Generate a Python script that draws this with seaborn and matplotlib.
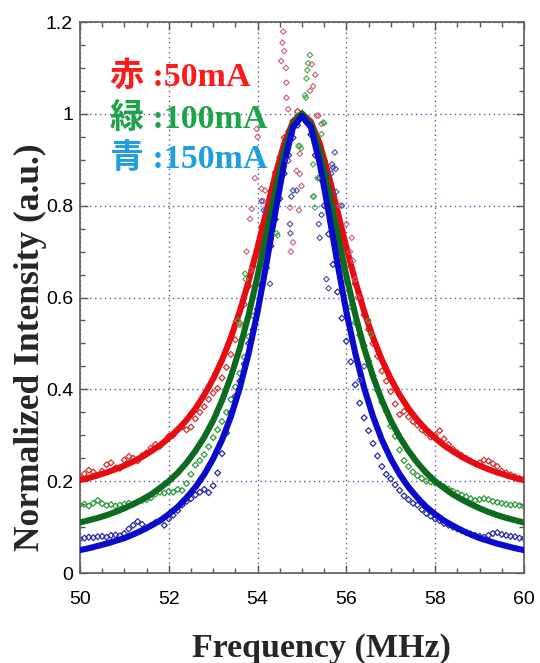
import matplotlib
matplotlib.use("Agg")
import matplotlib.pyplot as plt
import numpy as np
import pandas as pd
import seaborn as sns
from matplotlib.ticker import MultipleLocator, FuncFormatter

# ---------------- data ----------------
series_names = ["50mA", "100mA", "150mA"]
legend_labels = ["赤 :50mA", "緑 :100mA", "青 :150mA"]

# fitted curves, sampled every 0.2 MHz from 50 to 60 MHz
freq_fit = [round(50 + 0.2 * i, 1) for i in range(51)]
red_fit = [0.2025, 0.207, 0.213, 0.219, 0.226, 0.234, 0.243, 0.253, 0.265, 0.278,
           0.294, 0.312, 0.333, 0.358, 0.388, 0.423, 0.464, 0.513, 0.570, 0.636,
           0.709, 0.788, 0.867, 0.935, 0.983, 1.000, 0.983, 0.935, 0.867, 0.788,
           0.709, 0.636, 0.570, 0.513, 0.464, 0.423, 0.388, 0.358, 0.333, 0.312,
           0.294, 0.278, 0.265, 0.253, 0.243, 0.234, 0.226, 0.219, 0.213, 0.207,
           0.2025]
green_fit = [0.110, 0.115, 0.120, 0.126, 0.133, 0.141, 0.150, 0.160, 0.171, 0.185,
             0.200, 0.218, 0.240, 0.266, 0.296, 0.332, 0.376, 0.428, 0.490, 0.563,
             0.647, 0.739, 0.833, 0.918, 0.978, 1.000, 0.978, 0.918, 0.833, 0.739,
             0.647, 0.563, 0.490, 0.428, 0.376, 0.332, 0.296, 0.266, 0.240, 0.218,
             0.200, 0.185, 0.171, 0.160, 0.150, 0.141, 0.133, 0.126, 0.120, 0.115,
             0.110]
blue_fit = [0.050, 0.054, 0.059, 0.064, 0.070, 0.076, 0.084, 0.093, 0.103, 0.114,
            0.128, 0.144, 0.164, 0.187, 0.215, 0.249, 0.290, 0.341, 0.403, 0.479,
            0.569, 0.674, 0.786, 0.892, 0.971, 0.995, 0.971, 0.892, 0.786, 0.674,
            0.569, 0.479, 0.403, 0.341, 0.290, 0.249, 0.215, 0.187, 0.164, 0.144,
            0.128, 0.114, 0.103, 0.093, 0.084, 0.076, 0.070, 0.064, 0.059, 0.054,
            0.050]

# measured data, every 0.1 MHz from 50 to 60 MHz
freq_data = [round(50 + 0.1 * i, 1) for i in range(101)]
red_data = [0.208, 0.216, 0.224, 0.220, 0.213, 0.222, 0.236, 0.240, 0.229, 0.228,
            0.246, 0.254, 0.250, 0.244, 0.256, 0.262, 0.272, 0.280, 0.276, 0.286,
            0.298, 0.300, 0.312, 0.318, 0.312, 0.318, 0.336, 0.350, 0.362, 0.378,
            0.392, 0.402, 0.425, 0.448, 0.476, 0.508, 0.545, 0.585, 0.625, 0.668,
            0.705, 0.756, 0.790, 0.832, 0.872, 0.905, 0.948, 0.962, 0.985, 1.005,
            0.998, 0.992, 0.978, 0.955, 0.930, 0.898, 0.862, 0.826, 0.784, 0.746,
            0.705, 0.668, 0.630, 0.598, 0.562, 0.530, 0.500, 0.472, 0.440, 0.418,
            0.395, 0.368, 0.345, 0.352, 0.340, 0.330, 0.322, 0.312, 0.305, 0.296,
            0.300, 0.310, 0.292, 0.280, 0.270, 0.262, 0.256, 0.250, 0.244, 0.238,
            0.240, 0.246, 0.244, 0.238, 0.232, 0.222, 0.218, 0.214, 0.210, 0.206,
            0.203]
green_data = [0.148, 0.150, 0.146, 0.152, 0.158, 0.151, 0.147, 0.149, 0.146, 0.148,
              0.150, 0.152, 0.150, 0.155, 0.158, 0.160, 0.164, 0.172, 0.176, 0.174,
              0.178, 0.176, 0.182, 0.180, 0.195, 0.215, 0.235, 0.245, 0.258, 0.275,
              0.295, 0.312, 0.330, 0.350, 0.378, 0.405, 0.435, 0.470, 0.515, 0.560,
              0.630, 0.672, 0.718, 0.765, 0.820, 0.870, 0.915, 0.948, 0.975, 0.995,
              1.002, 0.990, 0.972, 0.935, 0.905, 0.868, 0.812, 0.760, 0.712, 0.660,
              0.635, 0.580, 0.545, 0.518, 0.495, 0.462, 0.430, 0.398, 0.372, 0.352,
              0.320, 0.298, 0.268, 0.245, 0.232, 0.220, 0.212, 0.206, 0.200, 0.198,
              0.196, 0.192, 0.188, 0.183, 0.178, 0.174, 0.170, 0.166, 0.162, 0.158,
              0.160, 0.162, 0.160, 0.156, 0.154, 0.152, 0.150, 0.148, 0.149, 0.147,
              0.145]
blue_data = [0.074, 0.076, 0.078, 0.077, 0.079, 0.080, 0.078, 0.082, 0.083, 0.081,
             0.086, 0.096, 0.104, 0.112, 0.106, 0.098, 0.104, 0.110, 0.114, 0.104,
             0.118, 0.126, 0.136, 0.148, 0.156, 0.162, 0.170, 0.176, 0.182, 0.175,
             0.190, 0.218, 0.260, 0.305, 0.350, 0.385, 0.418, 0.455, 0.500, 0.530,
             0.575, 0.628, 0.665, 0.712, 0.770, 0.815, 0.870, 0.910, 0.948, 0.975,
             0.992, 0.982, 0.955, 0.910, 0.860, 0.800, 0.738, 0.672, 0.612, 0.555,
             0.505, 0.460, 0.410, 0.370, 0.338, 0.310, 0.282, 0.255, 0.232, 0.215,
             0.205, 0.192, 0.180, 0.168, 0.160, 0.152, 0.148, 0.138, 0.130, 0.124,
             0.118, 0.114, 0.108, 0.104, 0.100, 0.096, 0.092, 0.088, 0.085, 0.082,
             0.080, 0.078, 0.082, 0.086, 0.088, 0.084, 0.082, 0.080, 0.079, 0.076,
             0.075]

# scattered points near the peak
red_peak_x = [54.58, 54.56, 54.60, 54.53, 54.64, 54.65, 54.65, 54.69, 55.22, 55.25,
              55.18, 55.37, 55.44, 54.95, 54.99, 54.95, 54.09, 54.88, 54.93, 54.73,
              55.85, 56.00, 56.12, 56.08, 56.15, 55.33, 53.98, 54.00, 53.94, 54.17,
              54.13, 53.87, 53.83, 55.30, 54.80, 54.75, 56.20, 56.25, 53.75, 53.85]
red_peak_y = [1.179, 1.155, 1.137, 1.115, 1.100, 1.068, 1.035, 1.010, 1.108, 1.060,
              1.050, 0.996, 0.978, 0.869, 0.843, 0.913, 0.837, 0.876, 0.790, 0.796,
              0.800, 0.760, 0.730, 0.700, 0.680, 0.996, 0.967, 0.950, 0.860, 0.833,
              0.810, 0.793, 0.771, 1.085, 0.720, 0.700, 0.640, 0.600, 0.700, 0.660]
green_peak_x = [55.18, 55.14, 55.12, 55.10, 55.09, 55.48, 55.44, 54.95, 54.98, 55.25,
                55.35, 55.25, 53.72, 53.73, 54.43, 55.07, 54.92, 55.29, 55.27, 55.50,
                54.45, 53.55, 53.60, 56.50, 56.55]
green_peak_y = [1.128, 1.110, 1.095, 1.077, 1.035, 0.981, 0.956, 0.930, 0.925, 0.890,
                0.860, 0.820, 0.652, 0.640, 0.740, 1.040, 0.930, 0.796, 0.820, 0.980,
                0.735, 0.550, 0.540, 0.550, 0.520]
blue_peak_x = [55.74, 55.76, 55.68, 55.77, 54.80, 54.76, 55.70, 55.66, 54.73, 54.74,
               55.40, 55.44, 55.38, 54.69, 54.88, 54.09, 54.14, 54.28, 55.90, 55.55,
               55.60, 56.30, 56.40]
blue_peak_y = [0.916, 0.880, 0.890, 0.830, 0.833, 0.820, 0.883, 0.870, 0.760, 0.740,
               0.730, 0.780, 0.760, 0.898, 0.833, 0.810, 0.790, 0.630, 0.800, 0.640,
               0.620, 0.420, 0.450]

x_ticks = [50, 52, 54, 56, 58, 60]
y_ticks = [0, 0.2, 0.4, 0.6, 0.8, 1.0, 1.2]

# ---------------- styling ----------------
fit_colors = ["#e60c12", "#0c6b1e", "#0a0acc"]
data_colors = ["#cc3535", "#2f9a3c", "#2a2aa5"]
peak_colors = ["#c8607a", "#4aa64a", "#4a4ab5"]
text_colors = ["#ff1a1a", "#1fa34a", "#1ea0dc"]

sns.set_theme(style="ticks")
plt.rcParams["font.family"] = ["Liberation Sans", "DejaVu Sans"]

fig = plt.figure(figsize=(5.4, 6.63), dpi=100)
ax = fig.add_axes([0.1481, 0.1357, 0.8222, 0.8311])

fits = pd.DataFrame({
    "freq": freq_fit * 3,
    "val": red_fit + green_fit + blue_fit,
    "series": sum([[n] * len(freq_fit) for n in series_names], []),
})
data = pd.DataFrame({
    "freq": freq_data * 3,
    "val": red_data + green_data + blue_data,
    "series": sum([[n] * len(freq_data) for n in series_names], []),
})
peaks = [(red_peak_x, red_peak_y), (green_peak_x, green_peak_y), (blue_peak_x, blue_peak_y)]

for i, name in enumerate(series_names):
    sub = data[data["series"] == name]
    sns.scatterplot(data=sub, x="freq", y="val", ax=ax, marker="D", s=9,
                    facecolor="none", edgecolor=data_colors[i], linewidth=0.9,
                    zorder=2, legend=False)

for i, name in enumerate(series_names):
    sub = fits[fits["series"] == name]
    sns.lineplot(data=sub, x="freq", y="val", ax=ax, color=fit_colors[i],
                 linewidth=4.4, zorder=3, legend=False, estimator=None)

for i, (px, py) in enumerate(peaks):
    sns.scatterplot(x=px, y=py, ax=ax, marker="D", s=8, facecolor="none",
                    edgecolor=peak_colors[i], linewidth=0.8, zorder=4, legend=False)

ax.set_xlim(50, 60)
ax.set_ylim(0, 1.2)
ax.set_xticks(x_ticks)
ax.set_yticks(y_ticks)
ax.xaxis.set_minor_locator(MultipleLocator(0.5))
ax.yaxis.set_minor_locator(MultipleLocator(0.05))
ax.yaxis.set_major_formatter(FuncFormatter(lambda v, p: f"{v:g}"))
ax.tick_params(which="both", direction="in", top=True, right=True,
               color="#555555", width=1.0)
ax.tick_params(which="major", length=6)
ax.tick_params(which="minor", length=3.5)
ax.tick_params(axis="x", which="major", pad=13, labelsize=14, labelcolor="black")
ax.tick_params(axis="y", which="major", pad=5, labelsize=14, labelcolor="black")

ax.grid(True, which="major", color="#5a5aa8", linewidth=1.0,
        linestyle=(0, (1, 2.5)), zorder=1)
ax.set_axisbelow(True)
for sp in ax.spines.values():
    sp.set_color("#666666")
    sp.set_linewidth(1.3)

ax.set_xlabel("Frequency (MHz)", fontsize=24.5, fontweight="bold",
              family=["Liberation Serif"])
ax.set_ylabel("Normalized Intensity (a.u.)", fontsize=25.5, fontweight="bold",
              family=["Liberation Serif"])
ax.xaxis.set_label_coords(0.543, -0.108)
ax.yaxis.set_label_coords(-0.075, 0.41)

text_y = [1.061, 0.970, 0.882]
for lab, col, ty in zip(legend_labels, text_colors, text_y):
    ax.text(50.68, ty, lab, color=col, fontsize=24.5, fontweight="bold",
            family=["Liberation Serif", "Noto Sans CJK JP"], va="baseline",
            ha="left", zorder=5)

fig.savefig("out.png", dpi=100)
